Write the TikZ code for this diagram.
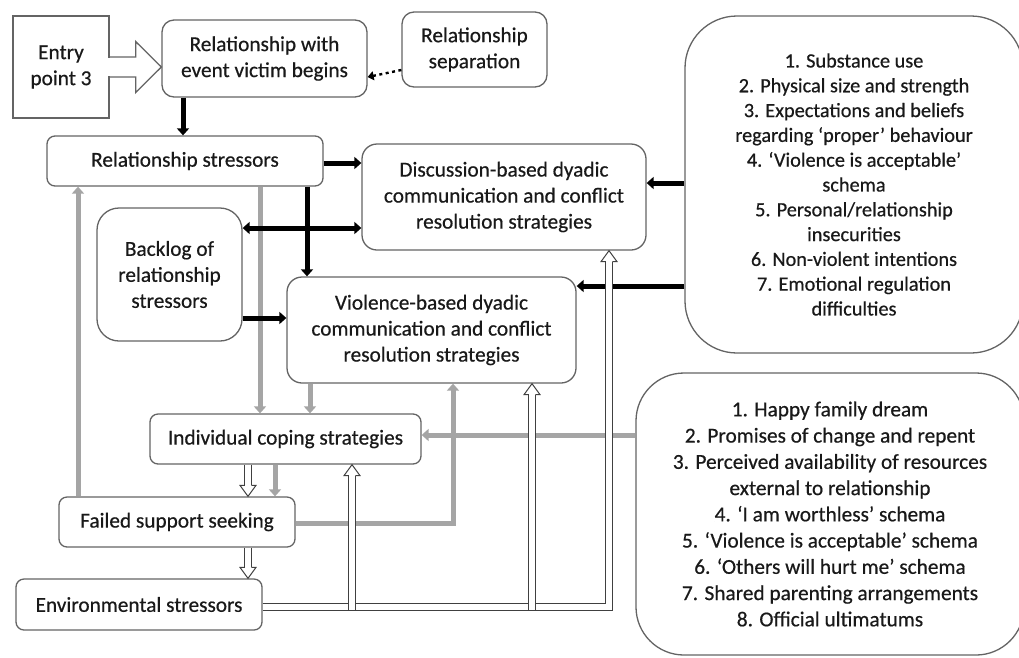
\documentclass[tikz,border=0pt]{standalone}
\usepackage{fontspec}
\setmainfont{Carlito}[FakeBold=0.5]
\usetikzlibrary{arrows.meta,calc}
\definecolor{grayarrow}{RGB}{165,165,165}
\definecolor{boxline}{RGB}{100,100,100}
\definecolor{txt}{RGB}{25,25,25}
\newcommand{\hheadup}[1]{%
  \fill[white] (#1) -- ++(-8,11) -- ++(16,0) -- cycle;
  \draw[hhead] ($(#1)+(-3.25,11)$) -- ++(-4.75,0) -- (#1) -- ++(8,11) -- ++(-4.75,0);}
\newcommand{\hheaddown}[1]{%
  \fill[white] (#1) -- ++(-8,-11) -- ++(16,0) -- cycle;
  \draw[hhead] ($(#1)+(-3.25,-11)$) -- ++(-4.75,0) -- (#1) -- ++(8,-11) -- ++(-4.75,0);}
\newcommand{\hup}[2]{%
  \draw[hshaft] (#1) -- ($(#2)+(0,11)$);
  \hheadup{#2}}
\newcommand{\hdown}[2]{%
  \draw[hshaft] (#1) -- ($(#2)+(0,-11)$);
  \hheaddown{#2}}
\begin{document}
\begin{tikzpicture}[x=1pt,y=-1pt,
  box/.style={draw=boxline, line width=1.3pt, rounded corners=10pt, align=center, inner sep=0pt, text=txt, font=\fontsize{21.3}{26}\selectfont},
  blk/.style={draw=black, line width=5pt, -{Triangle[length=7pt,width=12pt]}},
  gry/.style={draw=grayarrow, line width=5pt, -{Triangle[length=7pt,width=12pt]}},
  hshaft/.style={draw=black!75, line width=1pt, double=white, double distance=5.5pt},
  hhead/.style={draw=black!75, line width=1pt, line join=miter}
]
\useasboundingbox (0,0) rectangle (1019,657);
\clip (0,0) rectangle (1019,657);
\fill[white] (0,0) rectangle (1019,657);

% nodes
\node[box, rounded corners=0pt, minimum width=96pt, minimum height=102pt] (entry) at (61,67) {Entry\\point 3};
\node[box, rounded corners=12pt, minimum width=205pt, minimum height=77pt] (begins) at (264.5,58.5) {Relationship with\\event victim begins};
\node[box, rounded corners=12pt, minimum width=145pt, minimum height=75pt] (sep) at (474.5,49.5) {Relationship\\separation};
\node[box, rounded corners=8pt, minimum width=276pt, minimum height=50pt] (stress) at (185,161) {Relationship stressors};
\node[box, rounded corners=15pt, minimum width=284pt, minimum height=106pt] (disc) at (504,197) {Discussion-based dyadic\\communication and conflict\\resolution strategies};
\node[box, rounded corners=22pt, minimum width=145pt, minimum height=133pt] (backlog) at (169.5,274.5) {Backlog of\\relationship\\stressors};
\node[box, rounded corners=15pt, minimum width=289pt, minimum height=106pt] (viol) at (431.5,330) {Violence-based dyadic\\communication and conflict\\resolution strategies};
\node[box, rounded corners=8pt, minimum width=271pt, minimum height=50pt] (ics) at (285.5,439) {Individual coping strategies};
\node[box, rounded corners=8pt, minimum width=236pt, minimum height=50pt] (fss) at (177,522) {Failed support seeking};
\node[box, rounded corners=8pt, minimum width=246pt, minimum height=51pt] (env) at (139,604.5) {Environmental stressors};
\node[box, rounded corners=52pt, minimum width=338pt, minimum height=337pt, font=\fontsize{20.3}{24.8}\selectfont] (fac1) at (854,184.5) {1. Substance use\\2. Physical size and strength\\3. Expectations and beliefs\\regarding ‘proper’ behaviour\\4. ‘Violence is acceptable’\\schema\\5. Personal/relationship\\insecurities\\6. Non-violent intentions\\7. Emotional regulation\\difficulties};
\node[box, rounded corners=48pt, minimum width=388pt, minimum height=282pt, font=\fontsize{21.3}{26.25}\selectfont] (fac2) at (830,514) {1. Happy family dream\\2. Promises of change and repent\\3. Perceived availability of resources\\external to relationship\\4. ‘I am worthless’ schema\\5. ‘Violence is acceptable’ schema\\6. ‘Others will hurt me’ schema\\7. Shared parenting arrangements\\8. Official ultimatums};

% guide coordinates
\coordinate (xA) at (183,0);
\coordinate (xB) at (307,0);
\coordinate (xC) at (260,0);
\coordinate (xD) at (310,0);
\coordinate (xE) at (248,0);
\coordinate (xF) at (275,0);
\coordinate (xG) at (78,0);
\coordinate (xH) at (453,0);
\coordinate (xI) at (352,0);
\coordinate (xJ) at (532,0);
\coordinate (xK) at (609,0);
\coordinate (yS) at (0,163);
\coordinate (yB) at (0,228);
\coordinate (yV) at (0,318);
\coordinate (yD) at (0,183);
\coordinate (yE) at (0,286);
\coordinate (yI) at (0,435);
\coordinate (yF) at (0,523);
\coordinate (yH) at (0,607);
\coordinate (yHb) at (0,609.8);
\coordinate (ySp) at (0,70);
\coordinate (yBe) at (0,77);

% entry arrow
\fill[white] ($(entry.east)+(-1.2,-9.4)$) rectangle ($(entry.east)+(1.2,9.4)$);
\draw[draw=boxline, line width=1.3pt, line join=miter]
  ($(entry.east)+(0,-10)$) -- ++(26,0) -- ++(0,-15.5) -- (begins.west |- entry.east)
  -- ($(entry.east)+(26,25.5)$) -- ++(0,-15.5) -- ++(-26,0);

% dotted arrow
\draw[line width=2.4pt, dash pattern=on 3pt off 3.5pt, -{Triangle[length=6pt,width=9pt]}] (sep.west |- ySp) -- (begins.east |- yBe);

% gray arrows
\draw[gry] (stress.south -| xC) -- (ics.north -| xC);
\draw[gry] (viol.south -| xD) -- (ics.north -| xD);
\draw[gry] (ics.south -| xF) -- (fss.north -| xF);
\draw[gry] (fss.north -| xG) -- (stress.south -| xG);
\draw[gry] (fss.east |- yF) -| (viol.south -| xH);
\draw[gry] (fac2.west |- yI) -- (ics.east |- yI);

% black arrows
\draw[blk] (begins.south -| xA) -- (stress.north -| xA);
\draw[blk] (stress.east |- yS) -- (disc.west |- yS);
\draw[blk, {Triangle[length=7pt,width=12pt]}-{Triangle[length=7pt,width=12pt]}] (backlog.east |- yB) -- (disc.west |- yB);
\draw[blk] (stress.south -| xB) -- (viol.north -| xB);
\draw[blk] (backlog.east |- yV) -- (viol.west |- yV);
\draw[blk] (fac1.west |- yD) -- (disc.east |- yD);
\draw[blk] (fac1.west |- yE) -- (viol.east |- yE);

% hollow arrows
\hdown{ics.south -| xE}{fss.north -| xE}
\hdown{fss.south -| xE}{env.north -| xE}
\draw[hshaft] (env.east |- yH) -- (xK |- yH) -- ($(disc.south -| xK)+(0,11)$);
\hheadup{disc.south -| xK}
\hup{xI |- yHb}{ics.south -| xI}
\hup{xJ |- yHb}{viol.south -| xJ}
\end{tikzpicture}
\end{document}
